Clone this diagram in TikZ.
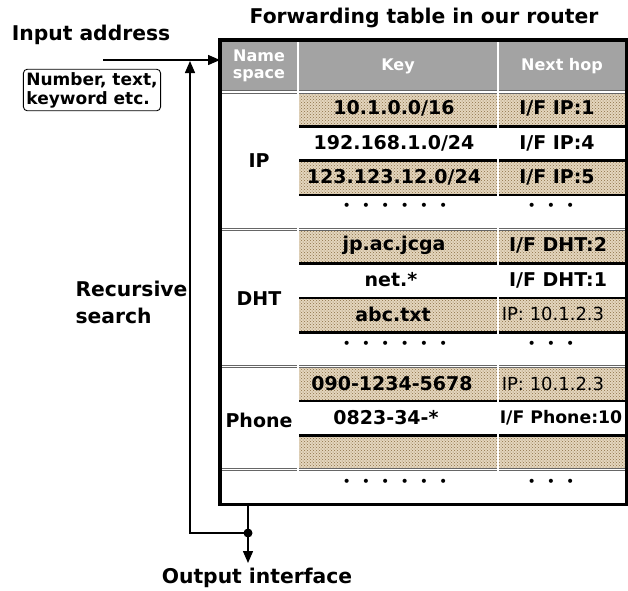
\documentclass[tikz,border=0pt]{standalone}
\usepackage{fontspec}
\setmainfont{DejaVu Sans}
\usetikzlibrary{patterns}
\usetikzlibrary{arrows.meta}
\definecolor{hdrgray}{RGB}{163,163,163}
\definecolor{tanfill}{RGB}{228,214,190}
\definecolor{tandot}{RGB}{140,112,70}
\newcommand{\dotgap}{\hspace{11pt}}

\tikzset{
  lbl/.style={font=\fontsize{20.3}{27}\selectfont\bfseries, align=left},
  cell/.style={font=\fontsize{19}{21}\selectfont\bfseries},
  hdr/.style={font=\fontsize{16}{20}\selectfont\bfseries, text=white, align=center},
  thinhop/.style={font=\fontsize{18}{20}\selectfont},
  dotsrow/.style={font=\fontsize{14}{14}\selectfont},
  hatch/.style={fill=tanfill, postaction={pattern=crosshatch dots, pattern color=tandot}},
  colsep/.style={draw=black!85, double=white, double distance=1.3pt, line width=0.8pt},
  grpsep/.style={draw=black!60, double=white, double distance=1.3pt, line width=1pt},
  rowline/.style={line width=2.8pt},
  wire/.style={line width=1.4pt},
  tip/.style={-{Triangle[length=12pt,width=10pt]}},
}

\begin{document}
\begin{tikzpicture}[x=1pt,y=-1pt]
  \useasboundingbox (0,0) rectangle (628,590);

  % table frame
  \node[minimum width=406, minimum height=464, inner sep=0, anchor=north west] (table) at (220,40) {};
  \fill[hdrgray] (220,40) rectangle (626,92);
  \foreach \r in {0,2,4,6,8,10}
    \path[hatch] (298,92+\r*34.33) rectangle (626,92+\r*34.33+34.33);
  \foreach \r in {1,2,3,5,6,7,9,10}
    \draw[rowline] (298,92+\r*34.33) -- (626,92+\r*34.33);
  \foreach \r in {0,4,8,11}
    \draw[grpsep] (220,92+\r*34.33) -- (626,92+\r*34.33);
  \draw[colsep] (298,40) -- (298,504);
  \draw[colsep] (498,40) -- (498,504);
  \draw[line width=3.2pt] (table.north west) rectangle (table.south east);

  % header
  \node[lbl] (title) at (424,18) {Forwarding table in our router};
  \node[hdr] (hname) at (259,66) {Name\\[-3pt]space};
  \node[hdr] (hkey) at (398,66) {Key};
  \node[hdr] (hhop) at (562,66) {Next hop};

  % IP
  \node[cell] (ip) at (259,161) {IP};
  \node[cell] (k1) at (394,108) {10.1.0.0/16};
  \node[cell] (h1) at (557,108) {I/F IP:1};
  \node[cell] (k2) at (394,143) {192.168.1.0/24};
  \node[cell] (h2) at (557,143) {I/F IP:4};
  \node[cell] (k3) at (394,177) {123.123.12.0/24};
  \node[cell] (h3) at (557,177) {I/F IP:5};
  \node[dotsrow] (k4) at (395,207) {•\dotgap•\dotgap•\dotgap•\dotgap•\dotgap•};
  \node[dotsrow] (h4) at (551,207) {•\dotgap•\dotgap•};

  % DHT
  \node[cell] (dht) at (259,299) {DHT};
  \node[cell] (k5) at (394,245) {jp.ac.jcga};
  \node[cell] (h5) at (558,245) {I/F DHT:2};
  \node[cell] (k6) at (391,280) {net.*};
  \node[cell] (h6) at (558,280) {I/F DHT:1};
  \node[cell] (k7) at (393,314) {abc.txt};
  \node[thinhop] (h7) at (553,314) {IP: 10.1.2.3};
  \node[dotsrow] (k8) at (395,345) {•\dotgap•\dotgap•\dotgap•\dotgap•\dotgap•};
  \node[dotsrow] (h8) at (551,345) {•\dotgap•\dotgap•};

  % Phone
  \node[cell] (phone) at (259,420) {Phone};
  \node[cell] (k9) at (392,384) {090-1234-5678};
  \node[thinhop] (h9) at (553,384) {IP: 10.1.2.3};
  \node[cell] (k10) at (386,418) {0823-34-*};
  \node[cell, font=\fontsize{17.3}{20}\selectfont\bfseries] (h10) at (561,418) {I/F Phone:10};
  \node[dotsrow] (k12) at (395,483) {•\dotgap•\dotgap•\dotgap•\dotgap•\dotgap•};
  \node[dotsrow] (h12) at (551,483) {•\dotgap•\dotgap•};

  % left side
  \node[lbl] (inlbl) at (91,35) {Input address};
  \node[draw, rounded corners=4pt, line width=0.9pt, align=left, inner sep=3pt,
        font=\fontsize{17}{19}\selectfont\bfseries] (kinds) at (92,90) {Number, text,\\keyword etc.};
  \node[lbl, anchor=west] (rec) at (72,302) {Recursive\\search};
  \node[lbl] (outlbl) at (257,578) {Output interface};

  % connectors
  \coordinate (inS) at (103,60);
  \coordinate (loopT) at (190,61);
  \coordinate (loopB) at (190,533);
  \coordinate (junc) at (248,533);
  \coordinate (outE) at (248,563);
  \draw[wire, tip] (inS) -- (inS -| table.west);
  \draw[wire, tip] (junc) -- (loopB) -- (loopT);
  \draw[wire] (table.south -| junc) -- (junc);
  \draw[wire, tip] (junc) -- (outE);
  \fill (junc) circle (4.5);
\end{tikzpicture}
\end{document}
